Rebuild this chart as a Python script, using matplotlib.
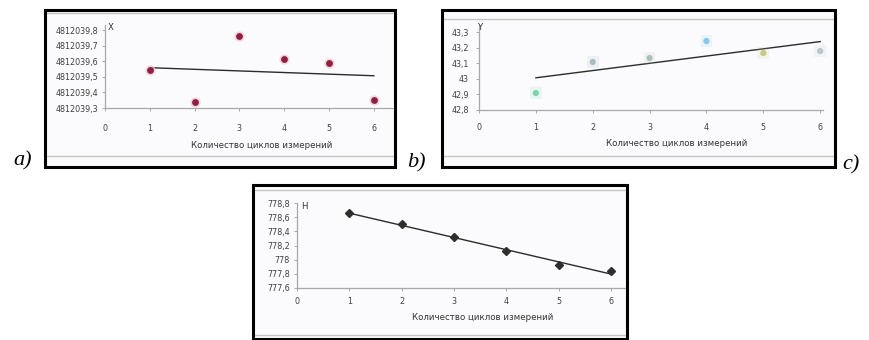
import numpy as np
import matplotlib
matplotlib.use("Agg")
import matplotlib.pyplot as plt
from matplotlib.patches import Rectangle
from matplotlib.lines import Line2D

# ---------------- data ----------------
cycles = [1, 2, 3, 4, 5, 6]
x_ticks_cycles = [0, 1, 2, 3, 4, 5, 6]
x_label = "Количество циклов измерений"

# a) X coordinate
coord_x = [4812039.544, 4812039.338, 4812039.760, 4812039.614, 4812039.588, 4812039.351]
a_yticks = [4812039.3, 4812039.4, 4812039.5, 4812039.6, 4812039.7, 4812039.8]
a_yticklabels = ["4812039,3", "4812039,4", "4812039,5", "4812039,6", "4812039,7", "4812039,8"]

# b) Y coordinate
coord_y = [42.909, 43.108, 43.133, 43.242, 43.165, 43.178]
b_yticks = [42.8, 42.9, 43.0, 43.1, 43.2, 43.3]
b_yticklabels = ["42,8", "42,9", "43", "43,1", "43,2", "43,3"]
b_colors = ["#7fd3ac", "#aabcc2", "#acc0b8", "#8cc6e6", "#c8c88a", "#b8c5cb"]

# c) H coordinate
coord_h = [778.656, 778.500, 778.320, 778.125, 777.920, 777.840]
c_yticks = [777.6, 777.8, 778.0, 778.2, 778.4, 778.6, 778.8]
c_yticklabels = ["777,6", "777,8", "778", "778,2", "778,4", "778,6", "778,8"]

W, H = 869, 340
fig = plt.figure(figsize=(W / 100, H / 100), dpi=100)
fig.patch.set_facecolor("white")

TICK_FS = 5.8
LABEL_FS = 6.2


def fx(x):
    return x / W


def fy(y):
    return 1 - y / H


def add_axes_px(x0, y0, x1, y1):
    return fig.add_axes([fx(x0), fy(y1), (x1 - x0) / W, (y1 - y0) / H])


def box(x0, y0, x1, y1, top_line, bottom_line):
    fig.add_artist(Rectangle((fx(x0), fy(y1)), (x1 - x0) / W, (y1 - y0) / H,
                             transform=fig.transFigure, facecolor="#fbfbfd",
                             edgecolor="none", zorder=0))
    for yy in (top_line, bottom_line):
        fig.add_artist(Line2D([fx(x0 + 2), fx(x1 - 2)], [fy(yy), fy(yy)],
                              transform=fig.transFigure, color="#c4c4c4", lw=1.0, zorder=1))
    fig.add_artist(Rectangle((fx(x0), fy(y1)), (x1 - x0) / W, (y1 - y0) / H,
                             transform=fig.transFigure, facecolor="none",
                             edgecolor="black", lw=2.2, zorder=10))


def style_axes(ax, xlim, ylim, yticks, yticklabels, xpad, ypad):
    ax.set_facecolor("none")
    ax.set_xlim(*xlim)
    ax.set_ylim(*ylim)
    ax.set_xticks(x_ticks_cycles)
    ax.set_xticklabels([str(v) for v in x_ticks_cycles])
    ax.set_yticks(yticks)
    ax.set_yticklabels(yticklabels)
    for s in ("top", "right"):
        ax.spines[s].set_visible(False)
    for s in ("left", "bottom"):
        ax.spines[s].set_color("#a8a8a8")
        ax.spines[s].set_linewidth(0.9)
    ax.tick_params(axis="both", direction="out", length=2.2, width=0.7,
                   color="#a8a8a8", labelsize=TICK_FS, labelcolor="#404040")
    ax.tick_params(axis="x", pad=xpad)
    ax.tick_params(axis="y", pad=ypad)


def trend(ax, xs, ys):
    k, b = np.polyfit(np.array(xs, float), np.array(ys, float) - ys[0], 1)
    xx = np.array([xs[0], xs[-1]], float)
    ax.plot(xx, k * xx + b + ys[0], color="#2b2b2b", lw=1.0, zorder=2)


# ---------------- panel a ----------------
box(45, 10, 395, 167, 13, 156)
ax_a = add_axes_px(105, 25, 394, 108)
style_axes(ax_a, (0, 6.45), (4812039.3, 4812039.3 + 83 / 156), a_yticks, a_yticklabels, 9, 2.5)
trend(ax_a, cycles, coord_x)
ax_a.scatter(cycles, coord_x, s=55, color="#f2c6d3", alpha=0.7, zorder=3, clip_on=False, lw=0)
ax_a.scatter(cycles, coord_x, s=24, color="#8e1f3f", zorder=4, clip_on=False, lw=0)
fig.text(fx(111), fy(28), "X", fontsize=LABEL_FS, color="#333333", ha="center", va="center")
fig.text(fx(262), fy(145), x_label, fontsize=LABEL_FS, color="#333333", ha="center", va="center")

# ---------------- panel b ----------------
box(442, 10, 835, 167, 19, 156)
ax_b = add_axes_px(479, 25, 823, 110)
style_axes(ax_b, (0, 6.05), (42.8, 42.8 + 85 / 156), b_yticks, b_yticklabels, 7, 5)
trend(ax_b, cycles, coord_y)
ax_b.scatter(cycles, coord_y, s=70, c=b_colors, alpha=0.15, marker="s", zorder=3, clip_on=False, lw=0)
ax_b.scatter(cycles, coord_y, s=20, c=b_colors, zorder=4, clip_on=False, lw=0)
fig.text(fx(481), fy(28), "Y", fontsize=LABEL_FS, color="#333333", ha="center", va="center")
fig.text(fx(677), fy(143), x_label, fontsize=LABEL_FS, color="#333333", ha="center", va="center")

# ---------------- panel c ----------------
box(253, 185, 627, 339, 190, 335)
ax_c = add_axes_px(297, 203, 625, 288)
style_axes(ax_c, (0, 6.27), (777.6, 778.8), c_yticks, c_yticklabels, 4.5, 3)
trend(ax_c, cycles, coord_h)
ax_c.plot(cycles, coord_h, linestyle="none", marker="D", markersize=4.2,
          color="#2e2e2e", zorder=4, clip_on=False)
fig.text(fx(304), fy(207), "H", fontsize=LABEL_FS, color="#333333", ha="center", va="center")
fig.text(fx(483), fy(317), x_label, fontsize=LABEL_FS, color="#333333", ha="center", va="center")

# ---------------- panel letters ----------------
for lab, xp, yp in (("a)", 23, 161), ("b)", 416, 163), ("c)", 851, 165)):
    fig.text(fx(xp), fy(yp), lab, fontsize=16, style="italic",
             family="Liberation Serif", ha="center", va="center", color="black")

fig.savefig("out.png", dpi=100, facecolor="white")
